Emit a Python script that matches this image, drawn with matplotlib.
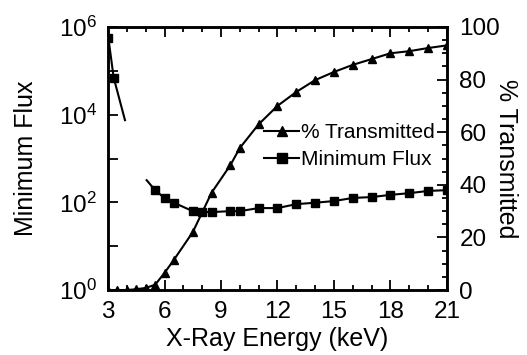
import matplotlib
matplotlib.use("Agg")
import matplotlib.pyplot as plt
import numpy as np
from matplotlib.ticker import MultipleLocator, LogLocator, NullFormatter

plt.rcParams['font.family'] = ['Liberation Sans', 'DejaVu Sans']
plt.rcParams['mathtext.fontset'] = 'custom'
plt.rcParams['mathtext.rm'] = 'Liberation Sans'

# % transmitted (right axis)
energy_tr = [3, 3.5, 4, 4.5, 5, 5.5, 6, 6.5, 7.5, 8.5, 9.5, 10, 11, 12,
             13, 14, 15, 16, 17, 18, 19, 20, 21]
transmitted = [0, 0, 0, 0.3, 0.8, 2, 6.5, 11.5, 22, 37, 47.5, 54, 63, 70,
               75.3, 79.8, 82.9, 85.6, 87.8, 90, 90.8, 92, 93]

# minimum flux (left axis), two branches
energy_low = [3.02, 3.3, 3.9]
flux_low = [5.5e5, 7e4, 7.5e3]
energy_fl = [5.05, 5.5, 6, 6.5, 7.5, 8, 8.5, 9.5, 10, 11, 12, 13, 14, 15,
             16, 17, 18, 19, 20, 21]
flux_fl = [320, 190, 125, 98, 63, 60, 60, 63, 63, 74, 74, 91, 98, 107,
           126, 132, 148, 162, 182, 190]

fig = plt.figure(figsize=(5.27, 3.55), dpi=100)
ax = fig.add_axes([0.205, 0.183, 0.643, 0.741])
ax2 = ax.twinx()

ax.plot(energy_low, flux_low, color='black', lw=1.5, marker='s', ms=6,
        markevery=[0, 1])
ax.plot(energy_fl, flux_fl, color='black', lw=1.5, marker='s', ms=6,
        markevery=list(range(1, len(energy_fl))))
ax.set_yscale('log')
ax.set_ylim(1, 1e6)
ax.set_xlim(3, 21)

ax2.plot(energy_tr, transmitted, color='black', lw=1.5, marker='^', ms=6)
ax2.set_ylim(0, 100)

# legend-style labels with line+marker handles
h1, = ax.plot([], [], color='black', lw=1.5, marker='^', ms=7)
h2, = ax.plot([], [], color='black', lw=1.5, marker='s', ms=7)
ax.legend([h1, h2], ['% Transmitted', 'Minimum Flux'], loc='upper left',
          bbox_to_anchor=(0.46, 0.635), frameon=False, fontsize=15,
          handlelength=1.7, handletextpad=0.1, labelspacing=0.4,
          borderpad=0, borderaxespad=0)

ax.set_xticks([3, 6, 9, 12, 15, 18, 21])
ax.xaxis.set_minor_locator(MultipleLocator(1))
ax.set_yticks([1, 10, 100, 1e3, 1e4, 1e5, 1e6])
ax.set_yticklabels([r'$\mathregular{10^0}$', '', r'$\mathregular{10^2}$', '',
                    r'$\mathregular{10^4}$', '', r'$\mathregular{10^6}$'])
ax.yaxis.set_minor_locator(LogLocator(base=10, subs=np.arange(2, 10)))
ax.yaxis.set_minor_formatter(NullFormatter())
ax2.set_yticks([0, 20, 40, 60, 80, 100])
ax2.yaxis.set_minor_locator(MultipleLocator(5))

ax.tick_params(which='both', direction='in', top=True, labelsize=17.5,
               width=1.3)
ax.tick_params(which='major', length=7)
ax.tick_params(which='minor', length=3.5)
ax.tick_params(axis='x', pad=8)
ax.tick_params(axis='y', pad=8)
ax2.tick_params(which='both', direction='in', labelsize=17.5, width=1.3,
                pad=9)
ax2.tick_params(which='major', length=7)
ax2.tick_params(which='minor', length=3.5)

for a in (ax, ax2):
    for s in a.spines.values():
        s.set_linewidth(1.8)

ax.set_xlabel('X-Ray Energy (keV)', fontsize=18, labelpad=3)
ax.set_ylabel('Minimum Flux', fontsize=18, labelpad=15)
ax2.set_ylabel('% Transmitted', fontsize=18, rotation=-90, labelpad=13)

fig.savefig('out.png', dpi=100)
